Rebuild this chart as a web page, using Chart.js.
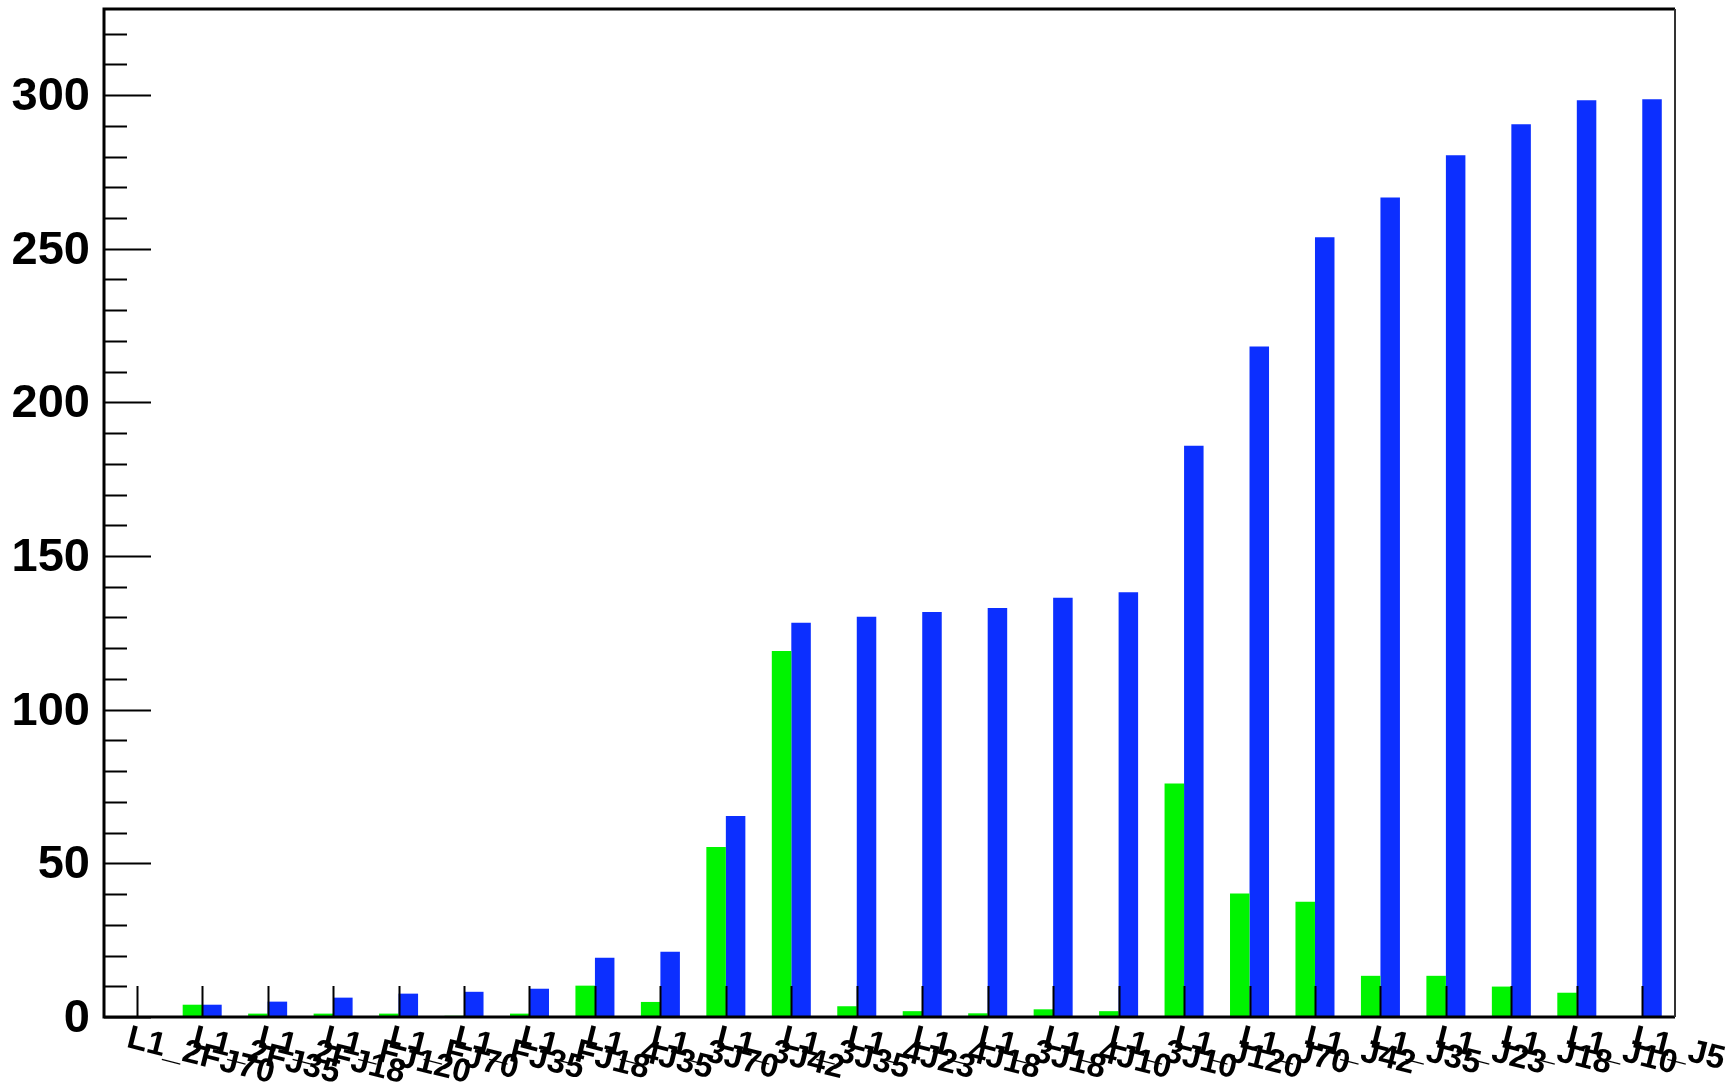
<!DOCTYPE html>
<html>
<head>
<meta charset="utf-8">
<title>L1 trigger rates</title>
<script src="https://cdn.jsdelivr.net/npm/chart.js@4/dist/chart.umd.min.js"></script>
<style>
    html, body { margin: 0; padding: 0; background: #ffffff; }
    #triggerChart { display: block; }
</style>
</head>
<body>
<canvas id="triggerChart" width="1733" height="1090"></canvas>
<script>
// Bin labels, one per trigger item
const triggerLabels = [
    'L1_2FJ70', 'L1_2FJ35', 'L1_2FJ18', 'L1_FJ120', 'L1_FJ70', 'L1_FJ35',
    'L1_FJ18', 'L1_4J35', 'L1_3J70', 'L1_3J42', 'L1_3J35', 'L1_4J23',
    'L1_4J18', 'L1_3J18', 'L1_4J10', 'L1_3J10', 'L1_J120', 'L1_J70',
    'L1_J42', 'L1_J35', 'L1_J23', 'L1_J18', 'L1_J10', 'L1_J5'
];

const greenValues = [
    0.2, 4.0, 1.1, 1.1, 1.1, 0.4, 1.1, 10.2, 4.9, 55.3, 119.1, 3.5,
    1.9, 1.2, 2.5, 1.9, 76.0, 40.2, 37.5, 13.4, 13.4, 9.9, 7.9, 0.3
];

const blueValues = [
    0, 4.0, 5.0, 6.3, 7.6, 8.2, 9.2, 19.3, 21.2, 65.4, 128.3, 130.2,
    131.8, 133.1, 136.4, 138.2, 185.9, 218.2, 253.7, 266.7, 280.4, 290.5, 298.3, 298.6
];

const yTickValues = [0, 50, 100, 150, 200, 250, 300];
const yMinorStep = 10;
const yMax = 328;

const FONT = '"Liberation Sans", Arial, Helvetica, sans-serif';

// ROOT-like frame, inward ticks and tilted bin labels
const rootFramePlugin = {
    id: 'rootFrame',
    afterDatasetsDraw(chart) {
        const ctx = chart.ctx;
        const area = chart.chartArea;
        const x = chart.scales.x;
        const y = chart.scales.y;

        ctx.save();
        ctx.strokeStyle = '#000000';
        ctx.lineWidth = 2;

        // y ticks: major every 50, minor every 10
        for (let v = 0; v <= yMax; v += yMinorStep) {
            const py = Math.round(y.getPixelForValue(v)) + 0.5;
            const len = v % 50 === 0 ? 47 : 23;
            ctx.beginPath();
            ctx.moveTo(area.left, py);
            ctx.lineTo(area.left + len, py);
            ctx.stroke();
        }

        // x ticks at each bin centre
        triggerLabels.forEach((lbl, i) => {
            const px = Math.round(x.getPixelForTick(i)) + 0.5;
            ctx.beginPath();
            ctx.moveTo(px, area.bottom);
            ctx.lineTo(px, area.bottom - 31);
            ctx.stroke();
        });

        // frame
        ctx.lineWidth = 3;
        ctx.beginPath();
        ctx.moveTo(area.right, area.top);
        ctx.lineTo(area.left, area.top);
        ctx.lineTo(area.left, area.bottom);
        ctx.lineTo(area.right, area.bottom);
        ctx.stroke();
        ctx.strokeStyle = '#333333';
        ctx.lineWidth = 2;
        ctx.beginPath();
        ctx.moveTo(area.right, area.top);
        ctx.lineTo(area.right, area.bottom);
        ctx.stroke();

        // bin labels, tilted down to the right
        ctx.fillStyle = '#000000';
        ctx.font = 'bold 33px ' + FONT;
        ctx.textAlign = 'left';
        ctx.textBaseline = 'top';
        triggerLabels.forEach((lbl, i) => {
            const px = x.getPixelForTick(i);
            ctx.save();
            ctx.translate(px - 5, area.bottom + 5);
            ctx.rotate(14 * Math.PI / 180);
            ctx.fillText(lbl, 0, 0);
            ctx.restore();
        });

        ctx.restore();
    }
};

function renderTriggerChart() {
    new Chart(document.getElementById('triggerChart'), {
        type: 'bar',
        data: {
            labels: triggerLabels,
            datasets: [
                {
                    label: 'green',
                    data: greenValues,
                    backgroundColor: '#00f400',
                    borderWidth: 0
                },
                {
                    label: 'blue',
                    data: blueValues,
                    backgroundColor: '#0c2fff',
                    borderWidth: 0
                }
            ]
        },
        options: {
            responsive: false,
            animation: false,
            events: [],
            datasets: {
                bar: { categoryPercentage: 0.596, barPercentage: 1.0 }
            },
            layout: {
                padding: { top: 9, right: 58, left: 0, bottom: 0 }
            },
            plugins: {
                legend: { display: false },
                tooltip: { enabled: false }
            },
            scales: {
                x: {
                    type: 'category',
                    offset: true,
                    grid: { display: false, drawTicks: false },
                    border: { display: false },
                    ticks: { display: false },
                    afterFit: (scale) => {
                        scale.height = 73;
                        scale.paddingLeft = 0;
                        scale.paddingRight = 0;
                    }
                },
                y: {
                    min: 0,
                    max: yMax,
                    grid: { display: false, drawTicks: false },
                    border: { display: false },
                    afterBuildTicks: (scale) => {
                        scale.ticks = yTickValues.map(v => ({ value: v }));
                    },
                    ticks: {
                        color: '#000000',
                        padding: 14,
                        labelOffset: 2,
                        font: { family: FONT, size: 47, weight: 'bold' }
                    },
                    afterFit: (scale) => {
                        scale.width = 104;
                        scale.paddingTop = 0;
                        scale.paddingBottom = 0;
                    }
                }
            }
        },
        plugins: [rootFramePlugin]
    });
}

document.addEventListener('DOMContentLoaded', renderTriggerChart);
</script>
</body>
</html>
